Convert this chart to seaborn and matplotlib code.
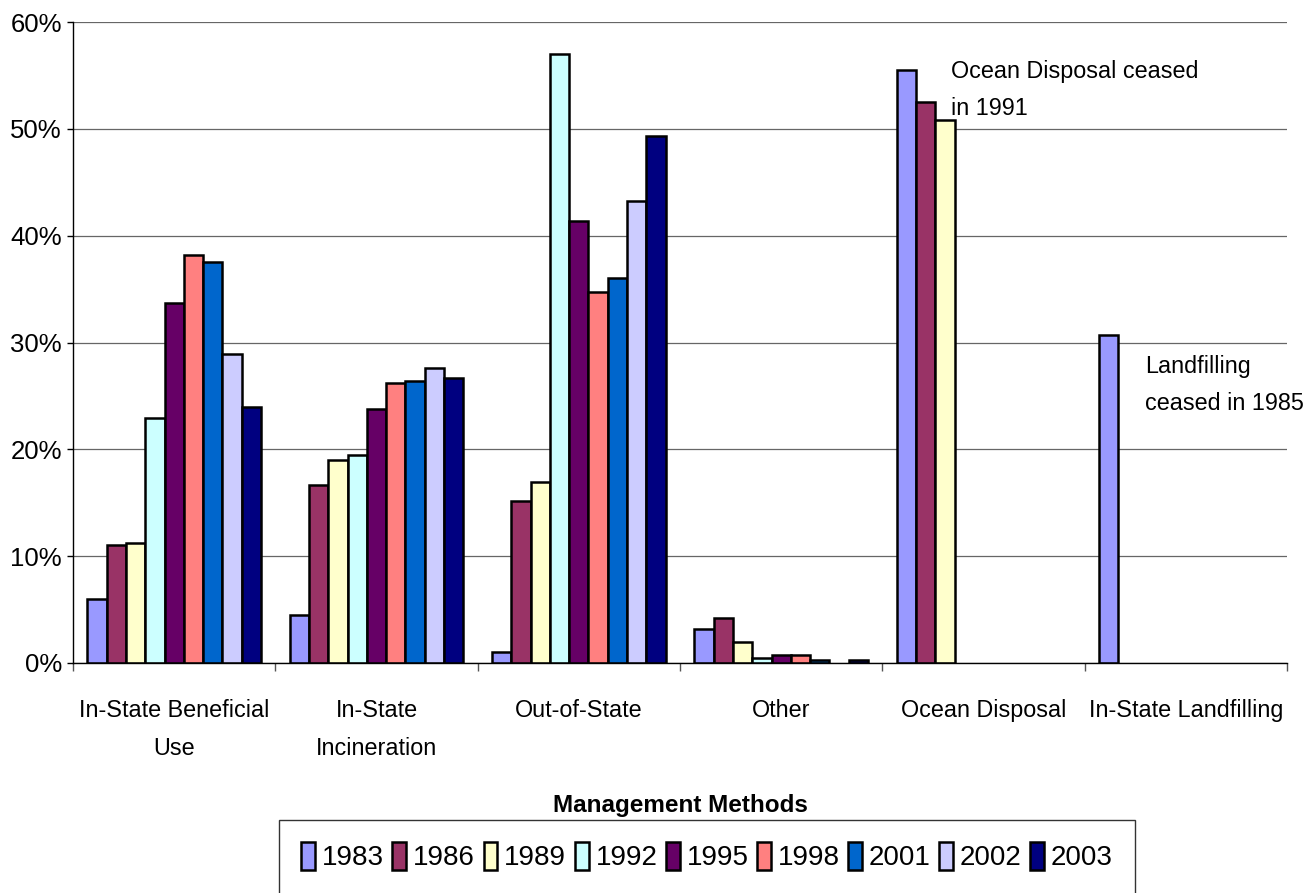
import numpy as np
import pandas as pd
import matplotlib
matplotlib.use("Agg")
import matplotlib.pyplot as plt
import seaborn as sns

# data (percent of total)
methods = ["In-State Beneficial\nUse", "In-State\nIncineration", "Out-of-State",
           "Other", "Ocean Disposal", "In-State Landfilling"]
years = ["1983", "1986", "1989", "1992", "1995", "1998", "2001", "2002", "2003"]
nan = np.nan
beneficial_use = [6.0, 11.0, 11.2, 22.9, 33.7, 38.2, 37.5, 28.9, 24.0]
incineration = [4.5, 16.7, 19.0, 19.5, 23.8, 26.2, 26.4, 27.6, 26.7]
out_of_state = [1.0, 15.2, 16.9, 57.0, 41.4, 34.7, 36.0, 43.2, 49.3]
other = [3.2, 4.2, 2.0, 0.45, 0.75, 0.75, 0.25, nan, 0.25]
ocean = [55.5, 52.5, 50.8, nan, nan, nan, nan, nan, nan]
landfill = [30.7, nan, nan, nan, nan, nan, nan, nan, nan]
colors = ["#9999FF", "#993366", "#FFFFCC", "#CCFFFF", "#660066",
          "#FF8080", "#0066CC", "#CCCCFF", "#000080"]

rows = []
for m, vals in zip(methods, [beneficial_use, incineration, out_of_state, other, ocean, landfill]):
    for y, v in zip(years, vals):
        rows.append({"Method": m, "Year": y, "Share": v})
df = pd.DataFrame(rows).dropna()

sns.set_style("white")
plt.rcParams["font.family"] = ["Liberation Sans", "DejaVu Sans"]
plt.rcParams["text.color"] = "black"
plt.rcParams["xtick.color"] = "black"
plt.rcParams["ytick.color"] = "black"

W, H = 1308, 893
fig = plt.figure(figsize=(W / 100, H / 100), dpi=100)
ax = fig.add_axes([73 / W, 1 - 663 / H, (1287 - 73) / W, (663 - 22) / H])

sns.barplot(data=df, x="Method", y="Share", hue="Year", order=methods, hue_order=years,
            palette=colors, saturation=1, width=0.857, edgecolor="black", linewidth=1.8,
            errorbar=None, ax=ax)

ax.set_xlim(-0.5, 5.5)
ax.set_ylim(0, 60)
ax.set_yticks(range(0, 61, 10))
ax.set_yticklabels([f"{v}%" for v in range(0, 61, 10)], fontsize=18.5)
ax.yaxis.grid(True, color="#666666", linewidth=0.9)
ax.set_axisbelow(True)
ax.tick_params(axis="y", length=4, width=1, pad=4, left=True)
ax.set_xticks(range(len(methods)))
ax.set_xticklabels(methods, fontsize=16.8, linespacing=1.85)
ax.set_xticks(np.arange(-0.5, 6, 1), minor=True)
ax.tick_params(axis="x", which="major", length=0, pad=26)
ax.tick_params(axis="x", which="minor", length=6, width=1, color="#555555", bottom=True)
ax.set_xlabel("")
ax.set_ylabel("")
for s in ["top", "right"]:
    ax.spines[s].set_visible(False)
for s in ["left", "bottom"]:
    ax.spines[s].set_color("black")
    ax.spines[s].set_linewidth(1)

ax.text(3.84, 56.45, "Ocean Disposal ceased\nin 1991", fontsize=16.8, va="top", ha="left",
        linespacing=1.8)
ax.text(4.80, 28.85, "Landfilling\nceased in 1985", fontsize=16.8, va="top", ha="left",
        linespacing=1.8)

fig.text(680 / W, 1 - 812 / H, "Management Methods", fontsize=17.5, fontweight="bold",
         ha="center", va="baseline")

sns.move_legend(ax, "upper center", bbox_to_anchor=(707 / W, 1 - 820 / H),
                bbox_transform=fig.transFigure, ncol=9, title=None, frameon=True,
                fancybox=False, edgecolor="black", fontsize=20, handlelength=0.5,
                handleheight=1.15, handletextpad=0.25, columnspacing=0.3,
                borderpad=0.8, borderaxespad=0)
leg = ax.get_legend()
leg.get_frame().set_linewidth(1)
for h in leg.legend_handles:
    h.set_edgecolor("black")
    h.set_linewidth(1.8)

fig.savefig("out.png", dpi=100)
